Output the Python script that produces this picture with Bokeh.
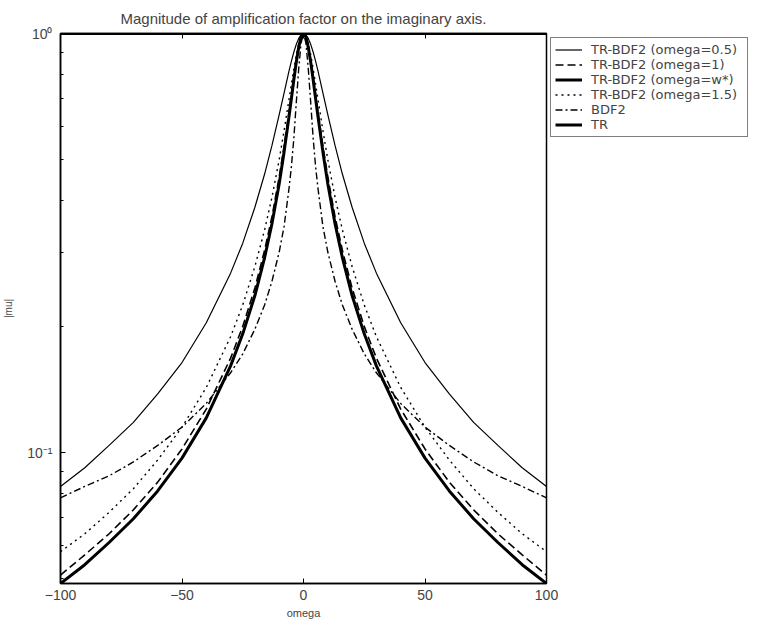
from bokeh.plotting import figure
from bokeh.models import FixedTicker, LinearAxis, Legend, LegendItem, Range1d
from bokeh.embed import file_html
from bokeh.resources import INLINE

# ---- data ----
omega = [-100, -90, -80, -70, -60, -50, -40, -30, -25, -20, -16, -13, -10, -8, -6, -5, -4, -3, -2, -1,
         0, 1, 2, 3, 4, 5, 6, 8, 10, 13, 16, 20, 25, 30, 40, 50, 60, 70, 80, 90, 100]

mu_trbdf2_05 = [0.083, 0.092, 0.104, 0.118, 0.138, 0.164, 0.204, 0.268, 0.316, 0.385, 0.462, 0.540, 0.640, 0.721,
                0.812, 0.858, 0.902, 0.941, 0.972, 0.993, 1.0, 0.993, 0.972, 0.941, 0.902, 0.858, 0.812, 0.721,
                0.640, 0.540, 0.462, 0.385, 0.316, 0.268, 0.204, 0.164, 0.138, 0.118, 0.104, 0.092, 0.083]

mu_trbdf2_1 = [0.051, 0.057, 0.064, 0.073, 0.085, 0.102, 0.127, 0.168, 0.200, 0.247, 0.304, 0.365, 0.455, 0.538,
               0.648, 0.714, 0.787, 0.862, 0.931, 0.981, 1.0, 0.981, 0.931, 0.862, 0.787, 0.714, 0.648, 0.538,
               0.455, 0.365, 0.304, 0.247, 0.200, 0.168, 0.127, 0.102, 0.085, 0.073, 0.064, 0.057, 0.051]

mu_trbdf2_wstar = [0.0487, 0.054, 0.061, 0.0695, 0.081, 0.097, 0.121, 0.161, 0.192, 0.237, 0.292, 0.351, 0.438, 0.521,
                   0.631, 0.698, 0.773, 0.852, 0.925, 0.980, 1.0, 0.980, 0.925, 0.852, 0.773, 0.698, 0.631, 0.521,
                   0.438, 0.351, 0.292, 0.237, 0.192, 0.161, 0.121, 0.097, 0.081, 0.0695, 0.061, 0.054, 0.0487]

mu_trbdf2_15 = [0.058, 0.064, 0.072, 0.082, 0.096, 0.115, 0.143, 0.189, 0.225, 0.278, 0.340, 0.406, 0.500, 0.586,
                0.694, 0.756, 0.822, 0.888, 0.945, 0.985, 1.0, 0.985, 0.945, 0.888, 0.822, 0.756, 0.694, 0.586,
                0.500, 0.406, 0.340, 0.278, 0.225, 0.189, 0.143, 0.115, 0.096, 0.082, 0.072, 0.064, 0.058]

mu_bdf2 = [0.078, 0.083, 0.088, 0.095, 0.104, 0.115, 0.131, 0.155, 0.172, 0.197, 0.225, 0.256, 0.301, 0.346,
           0.425, 0.48, 0.56, 0.68, 0.82, 0.95, 1.0, 0.95, 0.82, 0.68, 0.56, 0.48, 0.425, 0.346,
           0.301, 0.256, 0.225, 0.197, 0.172, 0.155, 0.131, 0.115, 0.104, 0.095, 0.088, 0.083, 0.078]

omega_tr = [-100, 100]
mu_tr = [1.0, 1.0]

x_ticks = [-100, -50, 0, 50, 100]
y_ticks = [0.1, 1.0]
y_minor = [0.05, 0.06, 0.07, 0.08, 0.09, 0.2, 0.3, 0.4, 0.5, 0.6, 0.7, 0.8, 0.9]
y_labels = {0.1: "10\u207b\u00b9", 1.0: "10\u2070"}

labels = ["TR-BDF2 (omega=0.5)", "TR-BDF2 (omega=1)", "TR-BDF2 (omega=w*)",
          "TR-BDF2 (omega=1.5)", "BDF2", "TR"]

FONT = "Liberation Sans"

p = figure(frame_width=486, frame_height=550,
           x_range=Range1d(-100, 100), y_range=Range1d(0.0487, 1.0),
           y_axis_type="log", output_backend="svg", toolbar_location=None,
           min_border_left=53, min_border_top=33, min_border_right=2, min_border_bottom=4,
           title="Magnitude of amplification factor on the imaginary axis.")
p.title.text_font = FONT
p.title.text_font_size = "15px"
p.title.text_font_style = "normal"
p.title.align = "center"
p.title.standoff = 13

p.xgrid.visible = False
p.ygrid.visible = False
p.outline_line_color = "black"
p.outline_line_width = 1.5
p.background_fill_color = "white"
p.border_fill_color = "white"

xt = FixedTicker(ticks=x_ticks, minor_ticks=[])
yt = FixedTicker(ticks=y_ticks, minor_ticks=y_minor)

for ax in p.xaxis:
    ax.ticker = xt
    ax.axis_label = "omega"
    ax.axis_label_text_font = FONT
    ax.axis_label_text_font_size = "11px"
    ax.axis_label_text_font_style = "normal"
    ax.axis_label_standoff = 4
    ax.major_label_text_font = FONT
    ax.major_label_text_font_size = "14px"
    ax.major_label_standoff = 6
for ax in p.yaxis:
    ax.ticker = yt
    ax.major_label_overrides = y_labels
    ax.axis_label = "|mu|"
    ax.axis_label_text_font = FONT
    ax.axis_label_text_font_size = "10px"
    ax.axis_label_text_font_style = "normal"
    ax.axis_label_standoff = 10
    ax.major_label_text_font = FONT
    ax.major_label_text_font_size = "14px"
    ax.major_label_standoff = 8

def style_axis(ax):
    ax.axis_line_color = "black"
    ax.axis_line_width = 1.5
    ax.major_tick_in = 5
    ax.major_tick_out = 0
    ax.minor_tick_in = 3
    ax.minor_tick_out = 0
    ax.major_tick_line_color = "black"
    ax.minor_tick_line_color = "black"

for ax in p.xaxis + p.yaxis:
    style_axis(ax)

# box ticks on the top edge (labels hidden)
ax_t = LinearAxis(ticker=xt, major_label_text_font_size="6px",
                  major_label_text_color=None, major_label_standoff=1)
style_axis(ax_t)
p.add_layout(ax_t, "above")

r1 = p.line(omega, mu_trbdf2_05, line_color="black", line_width=1.2)
r2 = p.line(omega, mu_trbdf2_1, line_color="black", line_width=1.6, line_dash="8 4")
r3 = p.line(omega, mu_trbdf2_wstar, line_color="black", line_width=3)
r4 = p.line(omega, mu_trbdf2_15, line_color="black", line_width=1.4, line_dash="2 4")
r5 = p.line(omega, mu_bdf2, line_color="black", line_width=1.4, line_dash="7 3 2 3")
r6 = p.line(omega_tr, mu_tr, line_color="black", line_width=3)

items = [LegendItem(label=l, renderers=[r]) for l, r in zip(labels, [r1, r2, r3, r4, r5, r6])]
legend = Legend(items=items, location="top_left",
                border_line_color="black", border_line_width=1,
                padding=4, spacing=0, margin=4,
                glyph_width=27, glyph_height=13, label_height=13, label_standoff=9,
                label_width=152,
                label_text_font="DejaVu Sans", label_text_font_size="13px",
                background_fill_color="white", background_fill_alpha=1)
p.add_layout(legend, "right")

open("out.html", "w").write(file_html(p, INLINE))
